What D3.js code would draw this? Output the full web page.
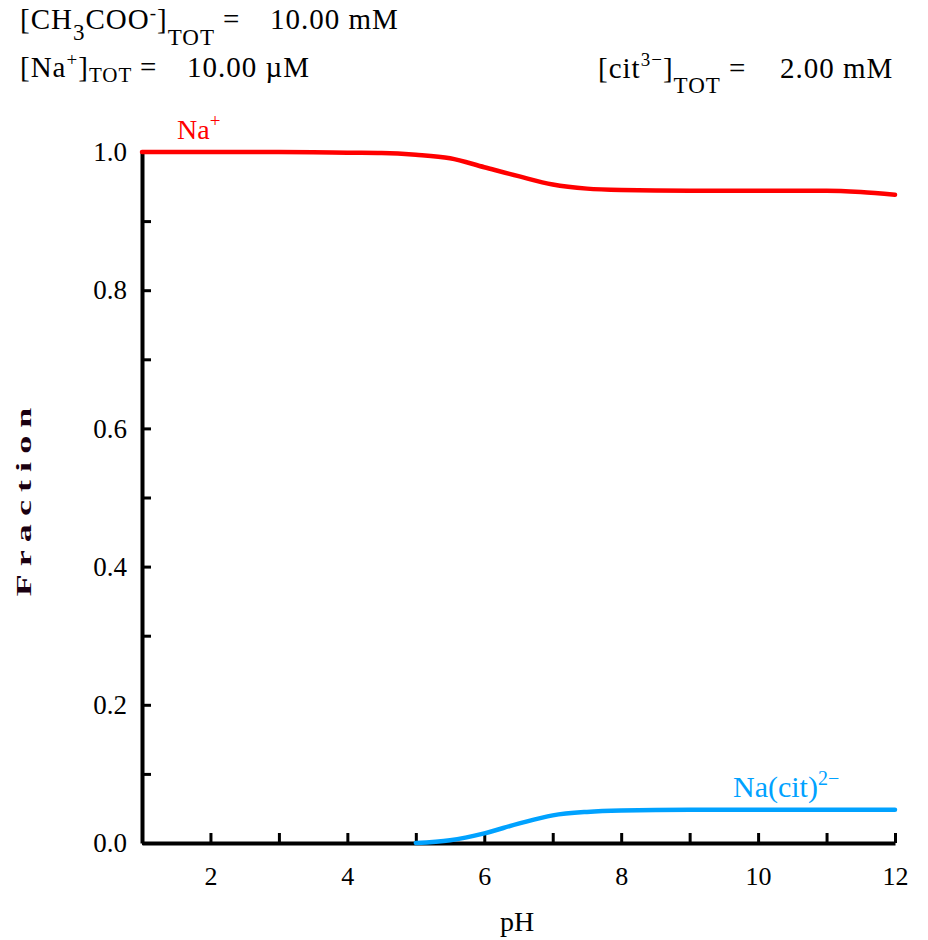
<!DOCTYPE html>
<html>
<head>
<meta charset="utf-8">
<script src="https://cdn.jsdelivr.net/npm/d3@7"></script>
<style>
  html, body { margin: 0; padding: 0; background: #fff; }
  svg text { font-family: "Liberation Serif", "Times New Roman", serif; }
</style>
</head>
<body>
<svg id="chart" width="928" height="940"></svg>
<script>
// Species distribution of sodium with citrate vs pH
const pH = [1, 2, 3, 3.5, 4, 4.5, 5, 5.5, 6, 6.5, 7, 7.5, 8, 9, 10, 11, 11.5, 12];
const naFree = [1.0, 1.0, 1.0, 0.9998, 0.999, 0.9985, 0.996, 0.991, 0.978, 0.965, 0.953, 0.947, 0.945, 0.944, 0.944, 0.944, 0.942, 0.938];

const pHCit = [5.0, 5.5, 6, 6.5, 7, 7.5, 8, 9, 10, 11, 12];
const naCit = [0.0, 0.004, 0.014, 0.028, 0.040, 0.045, 0.047, 0.048, 0.048, 0.048, 0.048];

const xTicks = [1, 2, 3, 4, 5, 6, 7, 8, 9, 10, 11, 12];
const xTickLabels = ["", "2", "", "4", "", "6", "", "8", "", "10", "", "12"];
const yTicks = [0, 0.1, 0.2, 0.3, 0.4, 0.5, 0.6, 0.7, 0.8, 0.9, 1.0];
const yTickLabels = ["0.0", "", "0.2", "", "0.4", "", "0.6", "", "0.8", "", "1.0"];

const svg = d3.select("#chart");
const x = d3.scaleLinear().domain([1, 12]).range([142, 895]);
const y = d3.scaleLinear().domain([0, 1]).range([843, 152]);

// Axes
const xAxis = d3.axisBottom(x)
  .tickValues(xTicks)
  .tickSize(-10)
  .tickSizeOuter(0)
  .tickPadding(24)
  .tickFormat((d, i) => xTickLabels[i]);
const gx = svg.append("g").attr("transform", `translate(0,${y(0)})`).call(xAxis);
gx.attr("font-family", null);
gx.select(".domain").attr("stroke", "#000").attr("stroke-width", 4);
gx.selectAll(".tick line").attr("stroke", "#000").attr("stroke-width", 3);
gx.selectAll(".tick text").attr("font-size", 26).attr("fill", "#000");

const yAxis = d3.axisLeft(y)
  .tickValues(yTicks)
  .tickSize(-9)
  .tickSizeOuter(0)
  .tickPadding(15)
  .tickFormat((d, i) => yTickLabels[i]);
const gy = svg.append("g").attr("transform", `translate(${x(1)},0)`).call(yAxis);
gy.attr("font-family", null);
gy.select(".domain").attr("stroke", "#000").attr("stroke-width", 4);
gy.selectAll(".tick line").attr("stroke", "#000").attr("stroke-width", 3);
gy.selectAll(".tick text").attr("font-size", 27).attr("fill", "#000");

// Curves
const line = d3.line().curve(d3.curveMonotoneX);
svg.append("path")
  .attr("d", line(pH.map((p, i) => [x(p), y(naFree[i])])))
  .attr("fill", "none").attr("stroke", "#ff0000").attr("stroke-width", 4.5)
  .attr("stroke-linecap", "round");
svg.append("path")
  .attr("d", line(pHCit.map((p, i) => [x(p), y(naCit[i])])))
  .attr("fill", "none").attr("stroke", "#00a2ff").attr("stroke-width", 4.5)
  .attr("stroke-linecap", "round");

// Species labels
const naLbl = svg.append("text").attr("x", 177).attr("y", 139)
  .attr("font-size", 28).attr("fill", "#ff0000");
naLbl.append("tspan").text("Na");
naLbl.append("tspan").attr("dy", -12).attr("font-size", 19).text("+");

const citLbl = svg.append("text").attr("x", 733).attr("y", 797)
  .attr("font-size", 30).attr("fill", "#00a2ff");
citLbl.append("tspan").text("Na(cit)");
citLbl.append("tspan").attr("dy", -12).attr("font-size", 20).text("2\u2212");

// Axis titles
svg.append("text").attr("x", 517).attr("y", 931)
  .attr("text-anchor", "middle").attr("font-size", 28).attr("fill", "#000").text("pH");
svg.append("text")
  .attr("transform", "translate(31,498) rotate(-90) scale(1.8,1)")
  .attr("text-anchor", "middle").attr("font-size", 20).attr("font-weight", "bold")
  .attr("letter-spacing", 4.5).attr("fill", "#1a0010").text("Fraction");

// Concentration annotations
const fs = 29;
const t1 = svg.append("text").attr("y", 29).attr("font-size", fs)
  .attr("letter-spacing", 1).attr("fill", "#000");
t1.append("tspan").attr("x", 20).text("[CH");
t1.append("tspan").attr("dy", 11).attr("font-size", 23).text("3");
t1.append("tspan").attr("dy", -11).text("COO");
t1.append("tspan").attr("dy", -10).attr("font-size", 19).text("-");
t1.append("tspan").attr("dy", 10).text("]");
t1.append("tspan").attr("dy", 16).attr("font-size", 23).text("TOT");
t1.append("tspan").attr("x", 223).attr("dy", -16).text("=");
t1.append("tspan").attr("x", 270).text("10.00 mM");

const t2 = svg.append("text").attr("y", 77).attr("font-size", fs)
  .attr("letter-spacing", 1).attr("fill", "#000");
t2.append("tspan").attr("x", 20).text("[Na");
t2.append("tspan").attr("dy", -11).attr("font-size", 19).text("+");
t2.append("tspan").attr("dy", 11).text("]");
t2.append("tspan").attr("dy", 5).attr("font-size", 21).text("TOT");
t2.append("tspan").attr("x", 140).attr("dy", -5).text("=");
t2.append("tspan").attr("x", 187).text("10.00 \u00b5M");

const t3 = svg.append("text").attr("y", 78).attr("font-size", fs)
  .attr("letter-spacing", 1).attr("fill", "#000");
t3.append("tspan").attr("x", 598).text("[cit");
t3.append("tspan").attr("dy", -12).attr("font-size", 19).text("3\u2212");
t3.append("tspan").attr("dy", 12).text("]");
t3.append("tspan").attr("dy", 15).attr("font-size", 23).text("TOT");
t3.append("tspan").attr("x", 729).attr("dy", -15).text("=");
t3.append("tspan").attr("x", 780).text("2.00 mM");
</script>
</body>
</html>
